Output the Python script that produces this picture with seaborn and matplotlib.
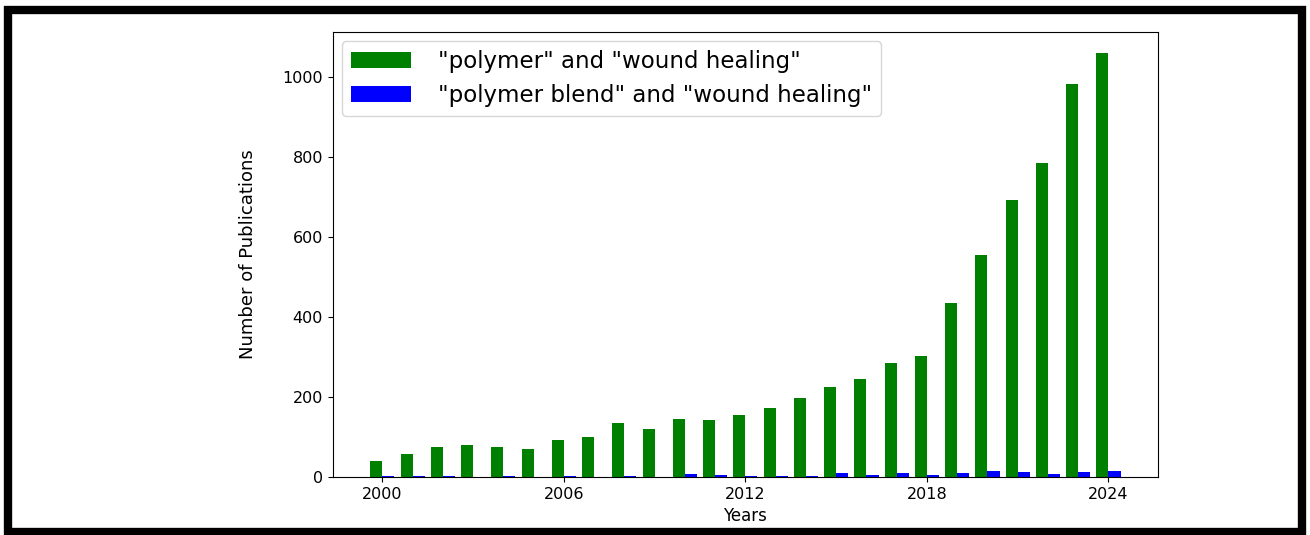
import numpy as np
import pandas as pd
import matplotlib
matplotlib.use("Agg")
import matplotlib.pyplot as plt
from matplotlib.patches import Rectangle
import seaborn as sns

# publication counts
years = list(range(2000, 2025))
polymer_wound = [39, 58, 74, 79, 74, 69, 93, 101, 135, 120, 145, 143, 156,
                 172, 198, 225, 244, 286, 302, 436, 556, 693, 786, 983, 1059]
blend_wound = [2, 2, 2, 0, 2, 0, 2, 0, 2, 0, 8, 6, 2,
               2, 2, 10, 4, 10, 4, 10, 15, 12, 7, 12, 15]
series_names = ['"polymer" and "wound healing"',
                '"polymer blend" and "wound healing"']
series_colors = ["green", "blue"]
xtick_years = [2000, 2006, 2012, 2018, 2024]
ytick_values = [0, 200, 400, 600, 800, 1000]

df = pd.DataFrame({
    "year": years * 2,
    "count": polymer_wound + blend_wound,
    "query": [series_names[0]] * len(years) + [series_names[1]] * len(years),
})

fig = plt.figure(figsize=(13.1, 5.35), dpi=100)
ax = fig.add_axes([0.254, 0.1084, 0.630, 0.8316])

sns.barplot(data=df, x="year", y="count", hue="query", hue_order=series_names,
            palette=series_colors, native_scale=True, width=0.8, gap=0,
            saturation=1, linewidth=0, errorbar=None, ax=ax)

ax.set_xticks(xtick_years)
ax.set_yticks(ytick_values)
ax.tick_params(labelsize=11.5)
ax.set_xlabel("Years", fontsize=12)
ax.set_ylabel("Number of Publications", fontsize=13, labelpad=18)

handles, labels = ax.get_legend_handles_labels()
ax.legend(handles, labels, loc="upper left", fontsize=16.5, handlelength=2.6,
          handletextpad=1.2, labelspacing=0.45, borderaxespad=0.4, title=None)

# thick black frame around the whole picture
W, H = 1310, 535
frame = Rectangle((8 / W, 3 / H), 1294 / W, 522 / H, transform=fig.transFigure,
                  fill=False, edgecolor="black", linewidth=6, clip_on=False)
fig.patches.append(frame)

fig.savefig("out.png", dpi=100)
